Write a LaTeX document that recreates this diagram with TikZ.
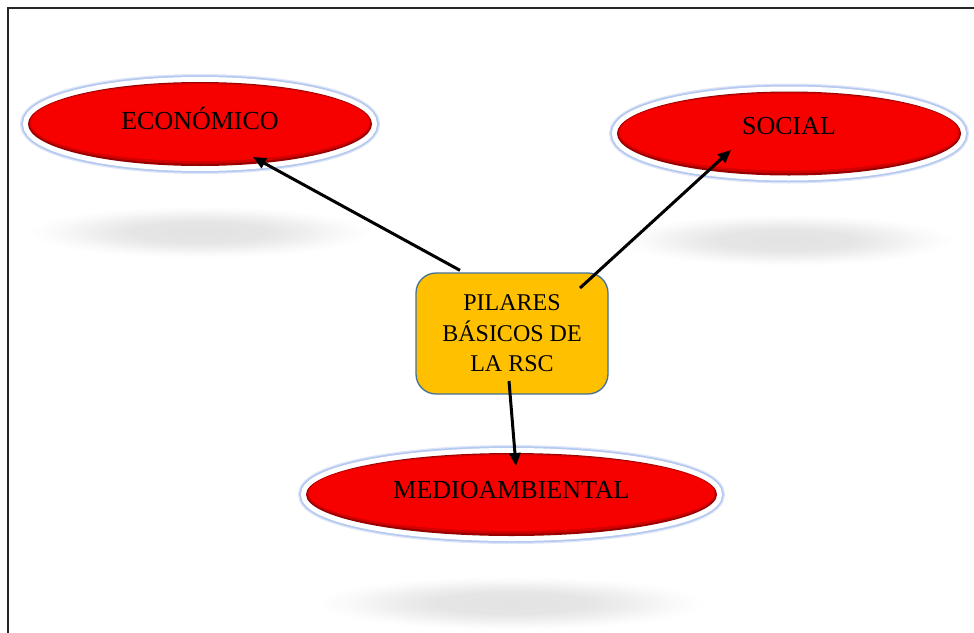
\documentclass[tikz,border=0pt]{standalone}
\usepackage{fontspec}
\setmainfont{Liberation Serif}
\usetikzlibrary{arrows.meta,calc,shapes.geometric}

\definecolor{pillarred}{HTML}{F60000}
\definecolor{midred}{HTML}{D20000}
\definecolor{rimred}{HTML}{980000}
\definecolor{glowblue}{HTML}{B4C8F0}
\definecolor{boxgold}{HTML}{FFC000}
\definecolor{boxedge}{HTML}{41719C}

% soft grey floor shadow under each pillar (path edge sits at 25bp)
\pgfdeclareradialshading{floorshadow}{\pgfpoint{0bp}{0bp}}{%
  color(0bp)=(black!11); color(10bp)=(black!10); color(16bp)=(black!6);
  color(21bp)=(black!2); color(25bp)=(white); color(50bp)=(white)}

\begin{document}
\begin{tikzpicture}[x=1pt,y=-1pt,
  pillar/.style 2 args={ellipse, inner sep=0pt,
    minimum width=#1, minimum height=#2, fill=rimred,
    preaction={draw=glowblue!45, line width=16pt},
    preaction={draw=glowblue, line width=13.4pt},
    preaction={draw=white, line width=10pt},
    path picture={
      \fill[midred] let \p1=(path picture bounding box.south west),
                        \p2=(path picture bounding box.north east) in
        (\x1/2+\x2/2, \y1/2+\y2/2+0.7pt)
        ellipse ({(\x2-\x1)/2-1.2pt} and {(\y2-\y1)/2-1.6pt});
      \fill[pillarred] let \p1=(path picture bounding box.south west),
                           \p2=(path picture bounding box.north east) in
        (\x1/2+\x2/2, \y1/2+\y2/2+1.4pt)
        ellipse ({(\x2-\x1)/2-2.6pt} and {(\y2-\y1)/2-3.6pt});
    }},
  pillartext/.style={font=\fontsize{26}{30}\selectfont, text=black, inner sep=0pt},
  hub/.style={rectangle, rounded corners=20pt, minimum width=192pt,
    minimum height=121pt, fill=boxgold, draw=boxedge, line width=1.3pt,
    align=center, inner sep=0pt, font=\fontsize{24}{30.5}\selectfont},
  link/.style={line width=3pt, -{Triangle[length=13pt,width=11pt]}},
  frameline/.style={line width=2pt, black!85}
]
\useasboundingbox (0,0) rectangle (974,632);
\clip (0,0) rectangle (974,632);

% page frame
\draw[frameline] (8,660) -- (8,8) -- (1000,8);

% floor shadows
\shade[shading=floorshadow] (200,232) ellipse (172 and 26);
\shade[shading=floorshadow] (786,240) ellipse (168 and 26);
\shade[shading=floorshadow] (511,603) ellipse (196 and 27);

% the three pillars
\node[pillar={344pt}{84pt},
      label={[pillartext, yshift=6pt]center:ECONÓMICO}] (eco) at (200,124) {};
\node[pillar={344pt}{84pt},
      label={[pillartext, yshift=7pt]center:SOCIAL}] (soc) at (789,133.5) {};
\node[pillar={411pt}{83pt},
      label={[pillartext, yshift=4.5pt]center:MEDIOAMBIENTAL}] (med) at (511.5,494.5) {};

% central box
\node[hub] (pil) at (512,333.5) {PILARES\\BÁSICOS DE\\LA RSC};

% connector end points
\coordinate (e0) at ($(pil.north)+(-52,-2)$);
\coordinate (e1) at ($(eco)+(53,33)$);
\coordinate (s0) at ($(pil)+(68,-45.5)$);
\coordinate (s1) at ($(soc)+(-58,16.5)$);
\coordinate (m0) at ($(pil)+(-3,47.5)$);
\coordinate (m1) at ($(med)+(4.5,-28.5)$);

\draw[link] (e0) -- (e1);
\draw[link] (s0) -- (s1);
\draw[link] (m0) -- (m1);
\end{tikzpicture}
\end{document}
